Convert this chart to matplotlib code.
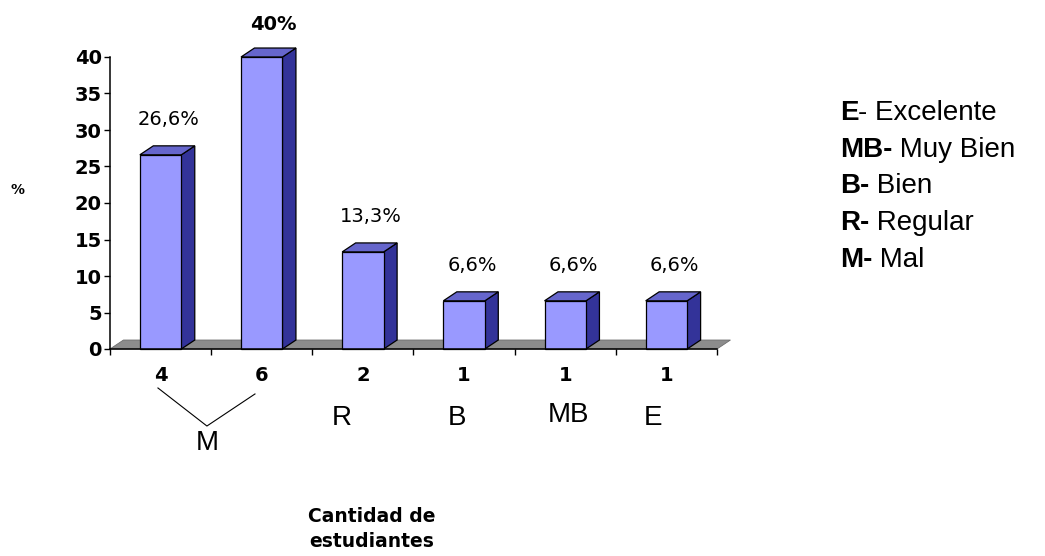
import matplotlib
matplotlib.use("Agg")
import matplotlib.pyplot as plt
from matplotlib.patches import Polygon, Rectangle

# datos de la encuesta
cantidades = [4, 6, 2, 1, 1, 1]
porcentajes = [26.6, 40, 13.3, 6.6, 6.6, 6.6]
calificaciones = ["M", "R", "B", "MB", "E"]
leyenda = [("E", "Excelente"), ("MB", "Muy Bien"), ("B", "Bien"),
           ("R", "Regular"), ("M", "Mal")]

FRENTE = "#9999FF"
TAPA = "#6666CC"
LADO = "#333399"
PISO = "#8C8C8C"

ancho = 0.41
dx, dy = 0.133, 1.23   # profundidad del efecto 3d

fig = plt.figure(figsize=(10.45, 5.56), dpi=100)
ax = fig.add_axes([110 / 1045, 207 / 556, 607 / 1045, 292 / 556])
ax.set_xlim(-0.5, 5.5)
ax.set_ylim(0, 40)

n = len(cantidades)

# piso gris
ax.add_patch(Polygon([(-0.5, 0), (n - 0.5, 0), (n - 0.5 + dx, dy), (-0.5 + dx, dy)],
                     closed=True, fc=PISO, ec="#6E6E6E", lw=0.6, clip_on=False, zorder=1))

for i, v in enumerate(porcentajes):
    x0 = i - ancho / 2
    x1 = i + ancho / 2
    ax.add_patch(Polygon([(x1, 0), (x1 + dx, dy), (x1 + dx, v + dy), (x1, v)],
                         closed=True, fc=LADO, ec="black", lw=0.9, clip_on=False, zorder=3))
    ax.add_patch(Polygon([(x0, v), (x1, v), (x1 + dx, v + dy), (x0 + dx, v + dy)],
                         closed=True, fc=TAPA, ec="black", lw=0.9, clip_on=False, zorder=3))
    ax.add_patch(Rectangle((x0, 0), ancho, v, fc=FRENTE, ec="black", lw=0.9,
                           clip_on=False, zorder=4))
    etiqueta = f"{v:g}".replace(".", ",") + "%"
    if v == max(porcentajes):
        ax.text(i + 0.11, v + 4.4, etiqueta, ha="center", va="center",
                fontsize=14, fontweight="bold", clip_on=False)
    else:
        ax.text(i + 0.08, v + 4.8, etiqueta, ha="center", va="center",
                fontsize=14, clip_on=False)

# ejes
for lado in ["top", "right"]:
    ax.spines[lado].set_visible(False)
ax.spines["left"].set_linewidth(1.1)
ax.spines["bottom"].set_linewidth(1.1)
ax.spines["bottom"].set_zorder(5)

ax.set_yticks(range(0, 41, 5))
ax.tick_params(axis="y", length=4, width=1, pad=2, labelsize=14)
for t in ax.get_yticklabels():
    t.set_fontweight("bold")

ax.set_xticks(range(n))
ax.set_xticklabels([str(c) for c in cantidades], fontsize=14, fontweight="bold")
ax.set_xticks([i - 0.5 for i in range(n + 1)], minor=True)
ax.tick_params(axis="x", which="major", length=0, pad=12)
ax.tick_params(axis="x", which="minor", length=4, width=1)

ax.text(-1.41, 21.8, "%", fontsize=10, fontweight="bold", ha="center", va="center",
        clip_on=False)

# letras de calificacion bajo las cantidades
pos_letras = [(0.46, -12.9), (1.79, -9.45), (2.93, -9.45), (4.03, -9.05), (4.87, -9.45)]
for letra, (lx, ly) in zip(calificaciones, pos_letras):
    ax.text(lx, ly, letra, ha="center", va="center", fontsize=20,
            family="Liberation Sans", clip_on=False)

# la V que agrupa las dos primeras barras en "M"
ax.plot([-0.026, 0.458, 0.933], [-5.34, -10.55, -6.16], color="black", lw=0.8,
        clip_on=False)

fig.text(372 / 1045, 1 - 529 / 556, "Cantidad de\nestudiantes", ha="center", va="center",
         fontsize=13.5, fontweight="bold", linespacing=1.45)

# leyenda de abreviaturas: parte en negrita y descripcion a continuacion
y0 = 113
for k, (abrev, nombre) in enumerate(leyenda):
    yy = 1 - (y0 + k * 36.7) / 556
    if abrev == "E":
        negrita, resto = abrev, "- " + nombre
    else:
        negrita, resto = abrev + "-", " " + nombre
    t = fig.text(840 / 1045, yy, negrita, fontsize=20, fontweight="bold",
                 family="Liberation Sans", va="center")
    fig.add_artist(plt.Annotation(resto, xy=(1, 0), xycoords=t, va="bottom",
                                  fontsize=20, family="Liberation Sans",
                                  annotation_clip=False))

fig.savefig("out.png", dpi=100)
